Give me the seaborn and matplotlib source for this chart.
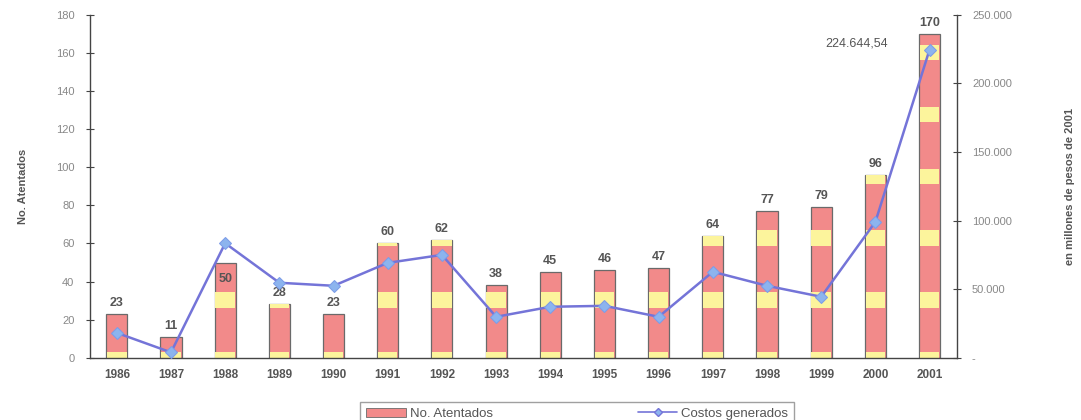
import numpy as np
import pandas as pd
import seaborn as sns
import matplotlib.pyplot as plt
from matplotlib.ticker import FuncFormatter, MultipleLocator, FixedLocator
from matplotlib.patches import Patch
from matplotlib.lines import Line2D

# datos
anios = ['1986', '1987', '1988', '1989', '1990', '1991', '1992', '1993',
         '1994', '1995', '1996', '1997', '1998', '1999', '2000', '2001']
atentados = [23, 11, 50, 28, 23, 60, 62, 38, 45, 46, 47, 64, 77, 79, 96, 170]
costos = [18200, 4000, 83500, 54700, 52500, 69200, 75000, 29900,
          37200, 37900, 29900, 62700, 52500, 44500, 99100, 224644.54]
# etiqueta de 1988 va dentro de la barra
etiqueta_dentro = ['1988']

df = pd.DataFrame({'anio': anios, 'atentados': atentados, 'costos': costos})

sns.set_theme(style='white')
plt.rcParams['font.family'] = ['Liberation Sans', 'DejaVu Sans']

rojo = '#F28A8A'
amarillo = '#FCF49C'
borde = '#6A6A6A'

fig, ax = plt.subplots(figsize=(10.81, 4.2), dpi=100)
fig.subplots_adjust(left=0.083, right=0.885, top=0.965, bottom=0.148)

# barras rojas
sns.barplot(data=df, x='anio', y='atentados', color=rojo, width=0.39,
            edgecolor=borde, linewidth=0.9, saturation=1, ax=ax, zorder=2)

# franjas amarillas del relleno
franjas = [(0, 3)] + [(26 + 32.5 * k, 34.3 + 32.5 * k) for k in range(5)]
xs = np.arange(len(anios))
for a, b in franjas:
    alto = np.clip(np.array(atentados) - a, 0, b - a)
    ax.bar(xs, alto, bottom=a, width=0.39 - 0.03, color=amarillo, linewidth=0, zorder=2.5)

# etiquetas de valor
for i, (an, v) in enumerate(zip(anios, atentados)):
    if an in etiqueta_dentro:
        ax.annotate(str(v), (i, v), xytext=(0, -12), textcoords='offset points',
                    ha='center', va='center', fontsize=9, fontweight='bold', color='#555555', zorder=5)
    else:
        ax.annotate(str(v), (i, v), xytext=(0, 8), textcoords='offset points',
                    ha='center', va='center', fontsize=9, fontweight='bold', color='#555555', zorder=5)

ax.set_xlim(-0.5, 15.5)
ax.set_ylim(0, 180)
ax.yaxis.set_major_locator(MultipleLocator(20))
ax.set_xlabel('')
ax.set_ylabel('No. Atentados', fontsize=8, fontweight='bold', color='#555555', labelpad=20)
ax.tick_params(axis='y', direction='inout', length=6, width=0.8, colors='#444444',
               labelcolor='#888888', labelsize=8, pad=8)
ax.tick_params(axis='x', length=0, labelsize=8.5, labelcolor='#555555', pad=8)
for lab in ax.get_xticklabels():
    lab.set_fontweight('bold')
ax.xaxis.set_minor_locator(FixedLocator(np.arange(0.5, 15.5, 1)))
ax.tick_params(axis='x', which='minor', direction='inout', length=6, width=0.8, colors='#444444')
for s in ['top', 'right']:
    ax.spines[s].set_visible(False)
for s in ['left', 'bottom']:
    ax.spines[s].set_color('#444444')
    ax.spines[s].set_linewidth(1.0)

# eje derecho: costos
ax2 = ax.twinx()
sns.lineplot(data=df, x='anio', y='costos', color='#7474D8', linewidth=1.8,
             marker='D', markersize=6, markerfacecolor='#8CB4EE', markeredgecolor='#7C9CE8',
             ax=ax2, zorder=4, sort=False)
ax2.set_ylim(0, 250000)
ax2.set_xlim(-0.5, 15.5)
ax2.yaxis.set_major_locator(MultipleLocator(50000))
ax2.yaxis.set_major_formatter(FuncFormatter(lambda v, p: '-' if v == 0 else f'{int(v):,}'.replace(',', '.')))
ax2.tick_params(axis='y', direction='inout', length=6, width=0.8, colors='#444444',
                labelcolor='#888888', labelsize=8, pad=8)
ax2.set_ylabel('en millones de pesos de 2001', fontsize=8, fontweight='bold', color='#555555', labelpad=38)
for s in ['top', 'left', 'bottom']:
    ax2.spines[s].set_visible(False)
ax2.spines['right'].set_color('#444444')
ax2.spines['right'].set_linewidth(1.0)
ax2.set_xlabel('')

ax2.annotate('224.644,54', (15, costos[-1]), xytext=(-30, 4), textcoords='offset points',
             ha='right', va='center', fontsize=9, color='#555555')

# leyenda
h = [Patch(facecolor=rojo, edgecolor=borde, linewidth=0.6),
     Line2D([], [], color='#7474D8', marker='D', markersize=4, markerfacecolor='#8CB4EE', linewidth=1.2)]
fig.legend(h, ['No. Atentados', 'Costos generados'], loc='lower center', ncol=2,
           bbox_to_anchor=(0.534, -0.03), frameon=True, fancybox=False, fontsize=9.5,
           edgecolor='#888888', columnspacing=11, handlelength=3, handletextpad=0.3,
           borderpad=0.45, labelcolor='#555555')

fig.savefig('out.png', dpi=100)
